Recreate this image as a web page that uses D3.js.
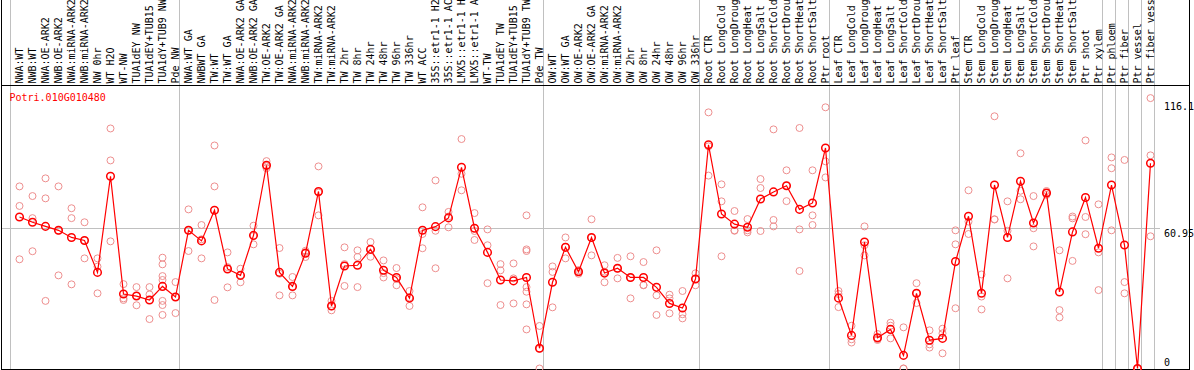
<!DOCTYPE html>
<html>
<head>
<meta charset="utf-8">
<script src="https://cdn.jsdelivr.net/npm/d3@7"></script>
<style>
  body { margin: 0; background: #fff; }
  svg { display: block; font-family: "DejaVu Sans Mono", monospace; font-size: 10px; }
</style>
</head>
<body>
<script>
const geneName = "Potri.010G010480";

const categories = [
  "NWA:WT", "NWB:WT", "NWA:OE-ARK2", "NWB:OE-ARK2", "NWA:miRNA-ARK2", "NWB:miRNA-ARK2",
  "NW 0hr", "WT H2O", "WT-NW", "TUA1dEY NW", "TUA1dEY+TUB15 NW", "TUA1dY+TUB9 NW", "Pde NW",
  "NWA:WT GA", "NWBWT GA", "TW:WT", "TW:WT GA", "NWA:OE-ARK2 GA", "NWB:OE-ARK2 GA",
  "TW:OE-ARK2", "TW:OE-ARK2 GA", "NWA:miRNA-ARK2", "NWB:miRNA-ARK2", "TW:miRNA-ARK2",
  "TW:miRNA-ARK2", "TW 2hr", "TW 8hr", "TW 24hr", "TW 48hr", "TW 96hr", "TW 336hr", "WT ACC",
  "35S::etr1-1 H2O", "35S::etr1-1 ACC", "LMX5::etr1-1 H2O", "LMX5::etr1-1 ACC", "WT-TW",
  "TUA1dEY TW", "TUA1dEY+TUB15 TW", "TUA1dY+TUB9 TW", "Pde TW",
  "OW:WT", "OW:WT GA", "OW:OE-ARK2", "OW:OE-ARK2 GA", "OW:miRNA-ARK2", "OW:miRNA-ARK2",
  "OW 2hr", "OW 8hr", "OW 24hr", "OW 48hr", "OW 96hr", "OW 336hr",
  "Root CTR", "Root LongCold", "Root LongDrought", "Root LongHeat", "Root LongSalt",
  "Root ShortCold", "Root ShortDrought", "Root ShortHeat", "Root ShortSalt", "Ptr root",
  "Leaf CTR", "Leaf LongCold", "Leaf LongDrought", "Leaf LongHeat", "Leaf LongSalt",
  "Leaf ShortCold", "Leaf ShortDrought", "Leaf ShortHeat", "Leaf ShortSalt", "Ptr leaf",
  "Stem CTR", "Stem LongCold", "Stem LongDrought", "Stem LongHeat", "Stem LongSalt",
  "Stem ShortCold", "Stem ShortDrought", "Stem ShortHeat", "Stem ShortSalt", "Ptr shoot",
  "Ptr xylem", "Ptr phloem", "Ptr fiber", "Ptr vessel", "Ptr fiber vessel"
];

const means = [
  65.9, 63.6, 61.8, 60.1, 57.0, 55.7, 41.8, 83.6, 32.4, 31.5, 29.8, 35.7, 31.1,
  60.1, 55.5, 68.8, 43.3, 40.5, 57.9, 88.4, 41.8, 35.7, 50.1, 77.0, 27.2, 44.6, 44.9,
  51.8, 42.7, 39.6, 30.6, 60.1, 61.7, 65.5, 87.5, 61.0, 50.5, 38.5, 38.1, 39.6, 8.8,
  37.5, 52.7, 42.1, 57.0, 41.5, 43.6, 39.6, 39.6, 35.3, 28.3, 26.3, 38.9,
  97.3, 67.2, 62.8, 61.4, 73.7, 76.8, 79.5, 69.2, 72.0, 95.9,
  30.6, 14.4, 55.0, 13.4, 17.0, 5.7, 32.7, 12.3, 13.1, 46.5,
  66.2, 32.7, 79.8, 57.0, 81.4, 63.3, 76.3, 33.3, 59.4, 74.4, 52.3,
  79.8, 53.7, 0, 89.3
];

const replicates = [
  [79.2, 70.7, 47.5], [75.0, 65.4, 51.0], [82.7, 74.0, 29.4], [79.2, 59.9, 40.5],
  [69.7, 65.4, 36.6], [63.6, 55.7, 47.9], [47.9, 44.3, 32.7], [104.4, 90.5, 55.3],
  [36.7, 30.5, 29.8], [35.4, 31.6, 27.5], [35.4, 32.2, 21.5],
  [48.2, 45.3, 40.2, 38.5, 29.4, 27.6, 23.3], [37.6, 31.1, 24.1],
  [69.2, 60.1, 51.1], [62.4, 56.2, 47.9], [97.0, 79.2, 29.8], [50.5, 44.1, 35.3],
  [43.4, 40.6, 37.5], [62.1, 57.6, 54.0], [90.2, 88.0, 87.1], [52.4, 41.2, 31.8],
  [39.8, 35.5, 31.8], [51.2, 50.6, 48.5], [87.9, 76.5, 66.6], [29.4, 27.0, 25.3],
  [52.7, 45.4, 35.9], [51.4, 48.5, 35.4], [55.0, 51.8, 48.6], [47.0, 41.5, 39.6],
  [43.7, 38.9, 36.2], [33.7, 30.9, 27.2], [70.1, 58.5, 52.3], [81.8, 59.9, 43.6],
  [68.1, 66.1, 61.4], [99.8, 84.7, 77.5], [67.6, 59.8, 55.9], [60.5, 53.6, 37.1],
  [45.4, 42.7, 27.6], [45.7, 39.2, 28.3],
  [66.6, 51.8, 51.1, 35.4, 33.4, 27.9, 17.0], [18.5, 8.6, 0.0],
  [44.4, 42.0, 26.6], [57.0, 52.9, 47.9], [42.8, 42.2, 41.2], [64.9, 56.9, 49.2],
  [44.9, 42.1, 37.5], [48.1, 43.5, 39.2], [48.8, 39.5, 30.5], [46.3, 36.3, 36.2],
  [51.4, 31.8, 23.3], [32.1, 30.5, 24.0], [33.7, 23.6, 21.8], [41.4, 38.9, 36.2],
  [111.4, 96.6, 83.9], [80.1, 72.7, 48.8], [68.5, 60.1, 59.9], [65.0, 60.1, 59.2],
  [82.4, 78.5, 59.8], [104.0, 64.6, 61.8], [86.2, 79.5, 72.8], [104.6, 60.5, 42.4],
  [86.2, 66.6, 62.4], [113.6, 90.1, 83.1],
  [33.7, 32.4, 26.7], [18.6, 12.7, 11.3], [61.8, 53.6, 49.2], [15.0, 12.8, 12.4],
  [19.9, 18.6, 13.1], [17.9, 0.0, 0.0], [37.1, 32.7, 28.5], [16.6, 10.5, 9.1],
  [17.3, 15.3, 6.6], [60.1, 54.0, 26.2],
  [77.5, 63.9, 58.5], [40.9, 31.3, 25.7], [109.7, 64.9, 64.8], [72.7, 59.9, 39.2],
  [93.6, 77.3, 73.6], [75.0, 61.0, 53.1], [77.2, 76.3, 75.5], [51.4, 25.4, 22.2],
  [66.1, 65.3, 46.8], [99.2, 65.9, 58.4], [71.4, 50.5, 34.1],
  [91.8, 87.1, 60.1], [90.7, 37.6, 32.7], [0, 0, 0], [117.6, 92.7, 57.5]
];

// index where each group of samples starts (last one closes the final group)
const groupStarts = [0, 13, 41, 53, 63, 73, 84, 85, 86, 87, 88];
const yTicks = [0, 60.95, 116.1];
const yMax = 123.3;

const width = 1194, height = 370;
const headerBottom = 85, plotBottom = 368.5;

const svg = d3.select("body").append("svg")
  .attr("width", width)
  .attr("height", height);

const x = d3.scaleBand()
  .domain(d3.range(categories.length))
  .range([11, 1155]);
const px = i => x(i) + 8.5;
const edge = i => i < categories.length ? x(i) : x.range()[1];

const y = d3.scaleLinear()
  .domain([0, yMax])
  .range([plotBottom, headerBottom]);

// grid
const grid = svg.append("g")
  .attr("stroke", "#c0c0c0")
  .attr("shape-rendering", "crispEdges");

grid.selectAll("line.v")
  .data(groupStarts)
  .join("line")
  .attr("class", "v")
  .attr("x1", d => Math.round(edge(d)) - 0.5)
  .attr("x2", d => Math.round(edge(d)) - 0.5)
  .attr("y1", 0)
  .attr("y2", 369);

grid.append("line")
  .attr("x1", 1.5)
  .attr("x2", 1160)
  .attr("y1", Math.round(y(yTicks[1])) + 0.5)
  .attr("y2", Math.round(y(yTicks[1])) + 0.5);

// frame
const frame = svg.append("g")
  .attr("stroke", "#000")
  .attr("shape-rendering", "crispEdges");
frame.append("line").attr("x1", 1.5).attr("x2", 1.5).attr("y1", 0).attr("y2", 370);
frame.append("line").attr("x1", 1189.5).attr("x2", 1189.5).attr("y1", 0).attr("y2", 370);
frame.append("line").attr("x1", 1).attr("x2", 1190).attr("y1", headerBottom + 0.5).attr("y2", headerBottom + 0.5);
frame.append("line").attr("x1", 1).attr("x2", 1190).attr("y1", 369.5).attr("y2", 369.5);

// sample labels
svg.append("g")
  .selectAll("text")
  .data(categories)
  .join("text")
  .attr("transform", (d, i) => "translate(" + px(i) + "," + (headerBottom - 1.5) + ") rotate(-90)")
  .attr("dy", "0.35em")
  .attr("fill", "#000")
  .text(d => d);

// y tick labels
svg.append("g")
  .selectAll("text")
  .data(yTicks)
  .join("text")
  .attr("x", 1164)
  .attr("y", d => Math.min(y(d) + 8.5, 366))
  .attr("fill", "#000")
  .text(d => d);

// replicate points
const reps = replicates.flatMap((vals, i) => vals.map(v => ({ i, v })));
svg.append("g")
  .selectAll("circle")
  .data(reps)
  .join("circle")
  .attr("cx", d => px(d.i))
  .attr("cy", d => y(d.v))
  .attr("r", 3.5)
  .attr("fill", "none")
  .attr("stroke", "#ee8f8f")
  .attr("stroke-width", 1);

// mean line
svg.append("path")
  .datum(means)
  .attr("fill", "none")
  .attr("stroke", "#ff0000")
  .attr("stroke-width", 1.2)
  .attr("d", d3.line().x((d, i) => px(i)).y(d => y(d)));

svg.append("g")
  .selectAll("circle")
  .data(means)
  .join("circle")
  .attr("cx", (d, i) => px(i))
  .attr("cy", d => y(d))
  .attr("r", 3.8)
  .attr("fill", "none")
  .attr("stroke", "#ff0000")
  .attr("stroke-width", 1.5);

// gene title
svg.append("text")
  .attr("x", 9.5)
  .attr("y", 100.5)
  .attr("fill", "#ff0000")
  .text(geneName);
</script>
</body>
</html>
